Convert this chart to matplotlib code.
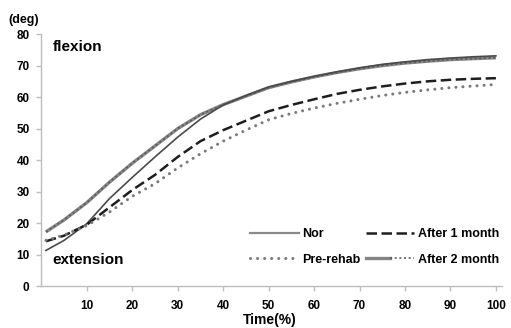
import matplotlib
matplotlib.use('Agg')
import matplotlib.pyplot as plt
from matplotlib.lines import Line2D
from matplotlib.legend_handler import HandlerTuple

plt.rcParams['font.family'] = ['Liberation Sans', 'DejaVu Sans']
plt.rcParams['font.weight'] = 'bold'

# time points (%)
time_pct = [1, 5, 10, 15, 20, 25, 30, 35, 40, 45, 50, 55, 60, 65, 70, 75, 80, 85, 90, 95, 100]

# knee angle (deg)
nor = [11.3, 14.5, 19.8, 27.8, 34.5, 41.0, 47.3, 53.0, 57.5, 60.5, 63.2, 65.0, 66.6, 68.0, 69.3,
       70.4, 71.2, 71.9, 72.4, 72.8, 73.1]
pre_rehab = [14.5, 16.2, 19.2, 23.5, 28.5, 32.5, 37.5, 42.0, 46.0, 49.5, 52.8, 54.8, 56.5, 58.0,
             59.3, 60.5, 61.5, 62.3, 63.0, 63.5, 64.0]
after_1m = [14.2, 16.0, 19.5, 25.0, 30.5, 35.3, 41.0, 46.0, 49.5, 52.5, 55.5, 57.5, 59.3, 61.0,
            62.3, 63.4, 64.3, 65.0, 65.5, 65.8, 66.0]
after_2m = [17.2, 21.0, 26.5, 33.0, 39.0, 44.5, 50.0, 54.4, 57.6, 60.3, 63.0, 64.8, 66.4, 67.8,
            69.0, 70.0, 70.8, 71.4, 71.9, 72.2, 72.5]

fig = plt.figure(figsize=(5.11, 3.28), dpi=100)
ax = fig.add_axes([0.081, 0.128, 0.901, 0.768])

# after 2 month: thick gray line with beaded texture
ax.plot(time_pct, after_2m, color='#858585', lw=2.4, solid_capstyle='butt')
ax.plot(time_pct, after_2m, color='#5a5a5a', lw=1.2, dashes=(1.2, 1.6))
ax.plot(time_pct, nor, color='#4a4a4a', lw=1.2)
ax.plot(time_pct, after_1m, color='#1e1e1e', lw=1.8, dashes=(4.2, 1.8))
ax.plot(time_pct, pre_rehab, color='#7a7a7a', lw=2.2, dashes=(0.01, 2.3), dash_capstyle='round')

ax.set_xlim(0, 101.3)
ax.set_ylim(0, 80)
ax.set_xticks(range(10, 101, 10))
ax.set_yticks(range(0, 81, 10))
for s in ['top', 'right']:
    ax.spines[s].set_visible(False)
for s in ['left', 'bottom']:
    ax.spines[s].set_color('#bdbdbd')
    ax.spines[s].set_linewidth(1.0)
ax.tick_params(axis='both', direction='out', length=3.5, color='#bdbdbd', width=1.0,
               labelsize=8.5, pad=6.5)
ax.tick_params(axis='y', pad=5)
for lbl in ax.get_xticklabels() + ax.get_yticklabels():
    lbl.set_fontweight('bold')

ax.text(2.5, 76, 'flexion', fontsize=11, fontweight='bold', va='center', ha='left')
ax.text(2.5, 8.2, 'extension', fontsize=11, fontweight='bold', va='center', ha='left')
fig.text(0.047, 0.939, '(deg)', fontsize=9, fontweight='bold', ha='center', va='center')
fig.text(0.528, 0.024, 'Time(%)', fontsize=10, fontweight='bold', ha='center', va='center')

h_nor = Line2D([], [], color='#8a8a8a', lw=1.6)
h_pre = Line2D([], [], color='#7a7a7a', lw=2.2, dashes=(0.01, 2.3), dash_capstyle='round')
h_1m = Line2D([], [], color='#1e1e1e', lw=1.8, dashes=(4.2, 1.8))
h_2m = (Line2D([], [], color='#858585', lw=2.4), Line2D([], [], color='#5a5a5a', lw=1.2, dashes=(1.2, 1.6)))
leg = fig.legend([h_nor, h_pre, h_1m, h_2m], ['Nor', 'Pre-rehab', 'After 1 month', 'After 2 month'],
                 ncol=2, loc='upper left', bbox_to_anchor=(0.489, 0.305), frameon=False,
                 handlelength=3.9, handletextpad=0.3, columnspacing=0.4,
                 labelspacing=1.1, borderpad=0, borderaxespad=0,
                 handler_map={tuple: HandlerTuple(ndivide=None)},
                 prop={'weight': 'bold', 'size': 9})

fig.savefig('out.png', dpi=100)
